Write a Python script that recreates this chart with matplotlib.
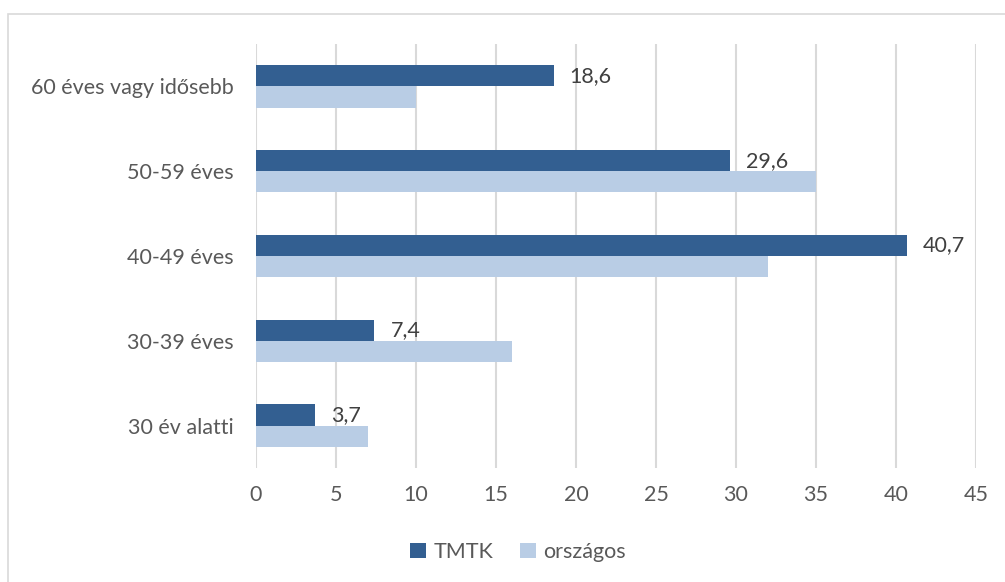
import matplotlib
matplotlib.use('Agg')
from matplotlib import pyplot as plt
from matplotlib.patches import Rectangle
import numpy as np

categories = ['30 év alatti', '30-39 éves', '40-49 éves', '50-59 éves', '60 éves vagy idősebb']
tmtk = [3.7, 7.4, 40.7, 29.6, 18.6]
orszagos = [7, 16, 32, 35, 10]
tmtk_labels = ['3,7', '7,4', '40,7', '29,6', '18,6']
xticks = list(range(0, 50, 5))

plt.rcParams['font.family'] = ['Lato', 'DejaVu Sans']
fs = 15.5

fig = plt.figure(figsize=(10.05, 5.82), dpi=100)
ax = fig.add_axes([256 / 1005, 1 - 468 / 582, 720 / 1005, 424 / 582])

# outer chart frame
fig.patches.append(Rectangle((8 / 1005, -0.1), 1.2, 1.1 - 14 / 582, transform=fig.transFigure,
                             fill=False, edgecolor='#d9d9d9', linewidth=1.2))

y = np.arange(len(categories))
h = 0.25
ax.barh(y + h / 2, tmtk, height=h, color='#335f91', label='TMTK', zorder=3)
ax.barh(y - h / 2, orszagos, height=h, color='#b9cde5', label='országos', zorder=3)

for yi, v, lab in zip(y, tmtk, tmtk_labels):
    ax.text(v + 1.0, yi + h / 2, lab, va='center', ha='left', fontsize=fs, color='#404040')

ax.set_xlim(0, 45)
ax.set_ylim(-0.5, len(categories) - 0.5)
ax.set_xticks(xticks)
ax.set_xticklabels([str(t) for t in xticks], fontsize=fs, color='#595959')
ax.set_yticks(y)
ax.set_yticklabels(categories, fontsize=fs, color='#595959')
ax.tick_params(axis='x', length=0, pad=12)
ax.tick_params(axis='y', length=0, pad=16)
ax.grid(axis='x', color='#d9d9d9', linewidth=1.5, zorder=0)
for s in ax.spines.values():
    s.set_visible(False)

ax.legend(loc='center', bbox_to_anchor=(518 / 1005, 1 - 552 / 582), bbox_transform=fig.transFigure,
          ncol=2, frameon=False, fontsize=fs, handlelength=0.75, handleheight=0.75,
          columnspacing=1.2, handletextpad=0.35, labelcolor='#595959')

fig.savefig('out.png', dpi=100)
